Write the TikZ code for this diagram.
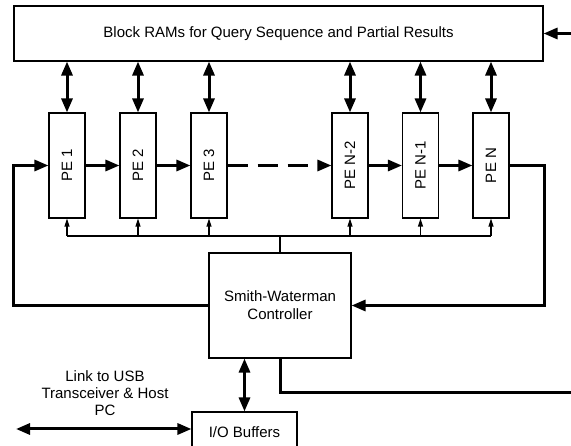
\documentclass[tikz,border=0pt]{standalone}
\usepackage{fontspec}
\setmainfont{Liberation Sans}
\usepackage{graphicx}
\usetikzlibrary{arrows.meta}

\begin{document}
\begin{tikzpicture}[x=1pt,y=-1pt,
        box/.style={draw, line width=1.1pt, inner sep=0pt, font=\fontsize{15}{18}\selectfont},
        pebox/.style={box, minimum width=36pt, minimum height=105pt},
        bigline/.style={line width=3pt},
        bigarrow/.style={bigline, -{Triangle[length=14pt,width=11pt]}},
        bigboth/.style={bigline, {Triangle[length=14pt,width=11pt]}-{Triangle[length=14pt,width=11pt]}},
        smallarrow/.style={line width=1.1pt, -{Triangle[length=8pt,width=5pt]}}]
        \def \pey{165.5}

        \useasboundingbox (0,0) rectangle (571,446);

        % Draw the block RAMs
        \node[box, minimum width=529pt, minimum height=55pt] (ram) at (278.5,33.5) {Block RAMs for Query Sequence and Partial Results};
        \coordinate (ramin) at (571,33.5);
        \draw[bigarrow] (ramin) -- (ram.east);

        % Draw the processing elements
        \node[pebox] (pe1) at (67,\pey) {\rotatebox{90}{PE 1}};
        \node[pebox] (pe2) at (138,\pey) {\rotatebox{90}{PE 2}};
        \node[pebox] (pe3) at (209,\pey) {\rotatebox{90}{PE 3}};
        \node[pebox] (peN2) at (350,\pey) {\rotatebox{90}{PE N-2}};
        \node[pebox] (peN1) at (420.5,\pey) {\rotatebox{90}{PE N-1}};
        \node[pebox] (peN) at (491,\pey) {\rotatebox{90}{PE N}};

        % Draw the controller and the buffers
        \node[box, minimum width=142pt, minimum height=105pt, align=center] (ctrl) at (280,305.5) {Smith-Waterman\\Controller};
        \node[box, minimum width=105pt, minimum height=40pt] (io) at (244.5,432) {I/O Buffers};
        \node[font=\fontsize{15}{17}\selectfont, align=center] (usblbl) at (105,393) {Link to USB\\Transceiver \& Host\\PC};

        % Draw the systolic chain
        \draw[bigarrow] (pe1) -- (pe2);
        \draw[bigarrow] (pe2) -- (pe3);
        \draw[bigarrow, dash pattern=on 20pt off 10pt] (pe3) -- (peN2);
        \draw[bigarrow] (peN2) -- (peN1);
        \draw[bigarrow] (peN1) -- (peN);

        % Draw the RAM ports and the control bus
        \coordinate (bus) at (0,236);
        \foreach \pe in {pe1,pe2,pe3,peN2,peN1,peN} {
            \draw[bigboth] (\pe.north |- ram.south) -- (\pe.north);
            \draw[smallarrow] (\pe.south |- bus) -- (\pe.south);
        }
        \draw[line width=1.1pt] (pe1.south |- bus) -- (peN.south |- bus);
        \draw[line width=1.1pt] (ctrl.north) -- (ctrl.north |- bus);

        % Draw the loops round the array
        \coordinate (loopL) at (13,240);
        \coordinate (loopR) at (544,240);
        \draw[bigarrow] (ctrl.west) -| (loopL) |- (pe1.west);
        \draw[bigarrow] (peN.east) -| (loopR) |- (ctrl.east);

        % Draw the host links
        \coordinate (usbout) at (571,393);
        \coordinate (hostpc) at (16,429);
        \draw[bigline] (ctrl.south) |- (usbout);
        \draw[bigboth] (io.north |- ctrl.south) -- (io.north);
        \draw[bigboth] (hostpc) -- (hostpc -| io.west);
    \end{tikzpicture}
\end{document}
